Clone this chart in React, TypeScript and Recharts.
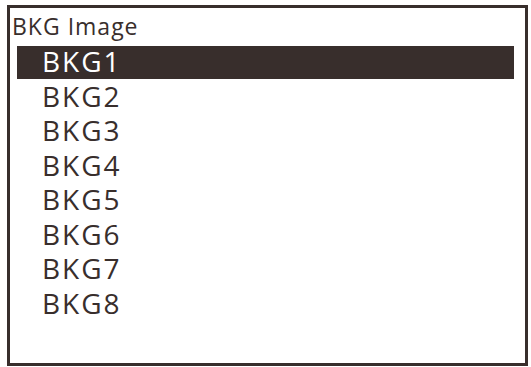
import React from 'react';
import { BarChart, Bar, XAxis, YAxis, Cell } from 'recharts';

const TITLE = 'BKG Image';
const categories = ['BKG1', 'BKG2', 'BKG3', 'BKG4', 'BKG5', 'BKG6', 'BKG7', 'BKG8'];
const selectedValues = [1, 0, 0, 0, 0, 0, 0, 0];

const data = categories.map((name, i) => ({ name, selected: selectedValues[i] }));

const DARK = '#382e2c';
const FONT = '"Open Sans", sans-serif';

const renderTick = (props: any) => {
  const { x, y, payload } = props;
  const idx = categories.indexOf(payload.value);
  const isSel = selectedValues[idx] === 1;
  return (
    <text
      key={payload.value}
      x={Number(x) + 25}
      y={Number(y) + 10}
      fill={isSel ? '#ffffff' : DARK}
      fontSize={28}
      fontFamily={FONT}
      letterSpacing={2}
      textAnchor="start"
    >
      {payload.value}
    </text>
  );
};

export default function App() {
  return (
    <div style={{ position: 'absolute', left: 0, top: 0, width: 531, height: 367, background: '#fff' }}>
      <div
        style={{
          position: 'absolute',
          left: 7,
          top: 5,
          width: 521,
          height: 361,
          border: `3px solid ${DARK}`,
          boxSizing: 'border-box',
        }}
      />
      <div
        style={{
          position: 'absolute',
          left: 12,
          top: 11,
          fontFamily: FONT,
          fontSize: 23,
          letterSpacing: 1,
          color: DARK,
          lineHeight: '30px',
          whiteSpace: 'nowrap',
        }}
      >
        {TITLE}
      </div>
      <div style={{ position: 'absolute', left: 0, top: 0 }}>
        <BarChart
          width={531}
          height={367}
          data={data}
          layout="vertical"
          margin={{ top: 45, right: 17, bottom: 46, left: 16 }}
          barCategoryGap={1}
        >
          <XAxis type="number" domain={[0, 1]} hide />
          <Bar dataKey="selected" isAnimationActive={false} fill={DARK}>
            {data.map((d) => (
              <Cell key={d.name} fill={DARK} />
            ))}
          </Bar>
          <YAxis
            type="category"
            dataKey="name"
            width={1}
            axisLine={false}
            tickLine={false}
            tickSize={0}
            tickMargin={0}
            interval={0}
            tick={renderTick}
          />
        </BarChart>
      </div>
    </div>
  );
}
